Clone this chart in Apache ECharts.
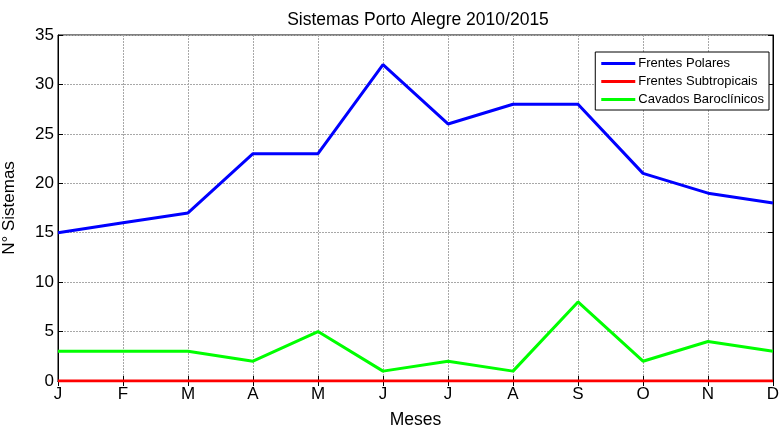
<!DOCTYPE html>
<html><head><meta charset="utf-8">
<script src="https://cdn.jsdelivr.net/npm/echarts@6/dist/echarts.min.js"></script>
<style>html,body{margin:0;padding:0;background:#fff}#c{width:779px;height:425px}</style>
</head><body><div id="c"></div>
<script>
const months = ['J','F','M','A','M','J','J','A','S','O','N','D'];
const frentesPolares = [15,16,17,23,23,32,26,28,28,21,19,18];
const frentesSubtropicais = [0,0,0,0,0,0,0,0,0,0,0,0];
const cavadosBaroclinicos = [3,3,3,2,5,1,2,1,8,2,4,3];
const yTicks = [0,35,5];

const font = 'Liberation Sans, Arial, sans-serif';
const chart = echarts.init(document.getElementById('c'));
const split = {show:true, lineStyle:{color:'#a8a8a8', type:[2,1], width:1}};
chart.setOption({
  animation:false,
  backgroundColor:'#fff',
  title:{text:'Sistemas Porto Alegre 2010/2015', left:413, top:6, textAlign:'center',
    textStyle:{fontFamily:font, fontSize:17.5, fontWeight:'normal', color:'#000'}},
  grid:{left:58, right:6, top:35, bottom:44, show:true, borderColor:'#000', borderWidth:1,
    backgroundColor:'transparent', outerBoundsMode:'none', containLabel:false},
  legend:{orient:'vertical', right:10, top:52, padding:[5,5,4,6], itemGap:5,
    backgroundColor:'#fff', borderColor:'#000', borderWidth:1, borderRadius:0,
    itemWidth:34, itemHeight:3, icon:'rect',
    textStyle:{fontFamily:font, fontSize:13, color:'#000', padding:[0,0,0,-2]},
    data:['Frentes Polares','Frentes Subtropicais','Cavados Baroclínicos']},
  xAxis:[{type:'category', data:months, boundaryGap:false,
    name:'Meses', nameLocation:'middle', nameGap:30,
    nameTextStyle:{fontFamily:font, fontSize:17.5, color:'#000'},
    axisLine:{show:true, lineStyle:{color:'#000'}},
    axisTick:{show:true, inside:true, length:5, lineStyle:{color:'#000'}},
    axisLabel:{fontFamily:font, fontSize:17, color:'#000', margin:5},
    splitLine:split},
   {type:'category', data:months, boundaryGap:false, position:'top',
    axisLine:{show:true, lineStyle:{color:'#000'}},
    axisTick:{show:true, inside:true, length:5, lineStyle:{color:'#000'}},
    axisLabel:{show:false}, splitLine:{show:false}}],
  yAxis:[{type:'value', min:yTicks[0], max:yTicks[1], interval:yTicks[2],
    name:'N° Sistemas', nameLocation:'middle', nameGap:40,
    nameTextStyle:{fontFamily:font, fontSize:17, color:'#000'},
    axisLine:{show:true, lineStyle:{color:'#000'}},
    axisTick:{show:true, inside:true, length:5, lineStyle:{color:'#000'}},
    axisLabel:{fontFamily:font, fontSize:17, color:'#000', margin:4},
    splitLine:split},
   {type:'value', min:yTicks[0], max:yTicks[1], interval:yTicks[2], position:'right',
    axisLine:{show:true, lineStyle:{color:'#000'}},
    axisTick:{show:true, inside:true, length:5, lineStyle:{color:'#000'}},
    axisLabel:{show:false}, splitLine:{show:false}}],
  series:[
    {name:'Frentes Polares', type:'line', data:frentesPolares, symbol:'none', color:'#0000ff', lineStyle:{width:3, color:'#0000ff'}, z:5},
    {name:'Frentes Subtropicais', type:'line', data:frentesSubtropicais, symbol:'none', color:'#ff0000', lineStyle:{width:3, color:'#ff0000'}, z:4},
    {name:'Cavados Baroclínicos', type:'line', data:cavadosBaroclinicos, symbol:'none', color:'#00ff00', lineStyle:{width:3, color:'#00ff00'}, z:3}
  ]
});
</script></body></html>
